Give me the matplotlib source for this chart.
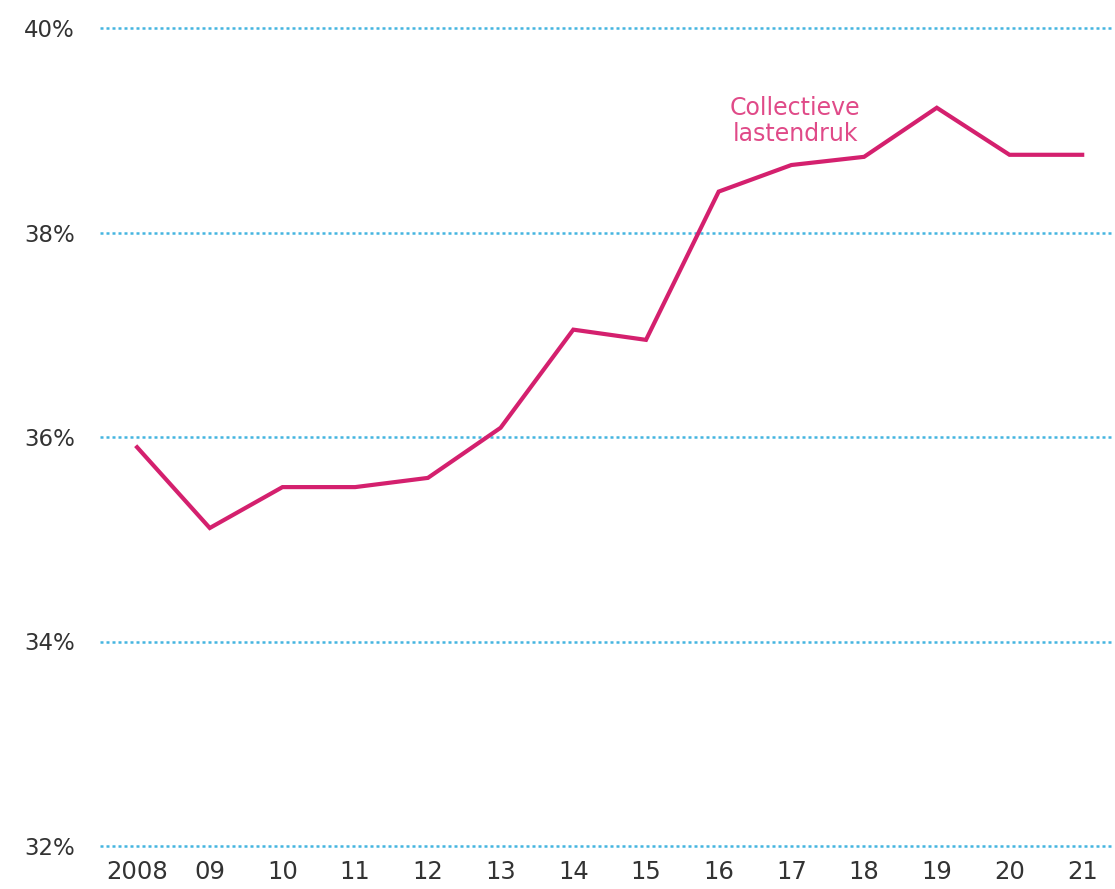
import matplotlib
matplotlib.use("Agg")
import matplotlib.pyplot as plt

years = [2008, 2009, 2010, 2011, 2012, 2013, 2014, 2015, 2016, 2017, 2018, 2019, 2020, 2021]
year_labels = ["2008", "09", "10", "11", "12", "13", "14", "15", "16", "17", "18", "19", "20", "21"]
lastendruk = [35.90, 35.11, 35.51, 35.51, 35.60, 36.09, 37.05, 36.95, 38.40, 38.66, 38.74, 39.22, 38.76, 38.76]
y_ticks = [32, 34, 36, 38, 40]
y_labels = ["32%", "34%", "36%", "38%", "40%"]

plt.rcParams['font.family'] = ['DejaVu Sans']

fig = plt.figure(figsize=(11.15, 8.89), dpi=100)
ax = fig.add_axes([100/1115, 43/889, (1112-100)/1115, (846-28)/889])

ax.set_xlim(2007.49, 2021.41)
ax.set_ylim(32, 40)

for yt in y_ticks:
    ax.axhline(yt, color='#45b5e0', linewidth=1.8, linestyle=(0, (1.2, 1.2)),
               zorder=1, clip_on=False)

ax.plot(years, lastendruk, color='#d4206e', linewidth=3.0, solid_joinstyle='miter', zorder=3)

ax.text(2017.05, 39.09, "Collectieve\nlastendruk", color='#e04a88', fontsize=17,
        ha='center', va='center', linespacing=1.08)

ax.set_yticks(y_ticks)
ax.set_yticklabels(y_labels, fontsize=16.5, color='#333333')
ax.set_xticks(years)
ax.set_xticklabels(year_labels, fontsize=17.5, color='#333333')
ax.tick_params(axis='y', length=0, pad=18)
ax.tick_params(axis='x', length=0, pad=10)
for s in ax.spines.values():
    s.set_visible(False)

fig.savefig("out.png", dpi=100, facecolor='white')
